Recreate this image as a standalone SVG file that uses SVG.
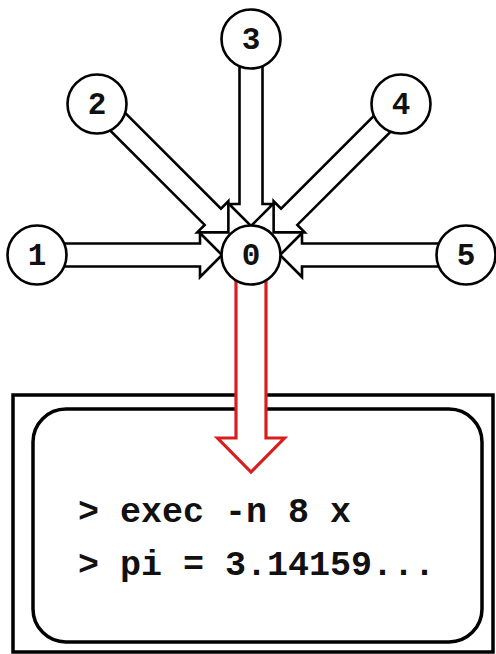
<svg xmlns="http://www.w3.org/2000/svg" width="496" height="654" viewBox="0 0 496 654">
<style>
.node circle{fill:#fff;stroke:#000;stroke-width:2.6}
.node text{font-family:"Liberation Mono","DejaVu Sans Mono",monospace;font-weight:bold;font-size:31px;text-anchor:middle;fill:#111}
.arr{fill:#fff;stroke:#000;stroke-width:2.6;stroke-linejoin:miter}
.red{fill:#fff;stroke:#d81f1f;stroke-width:3.2;stroke-linejoin:miter}
.frame{fill:#fff;stroke:#000;stroke-width:3.5}
.term{font-family:"Liberation Mono","DejaVu Sans Mono",monospace;font-weight:bold;font-size:35px;fill:#111}
</style>
<rect width="496" height="654" fill="#fff"/>
<g id="terminal">
  <rect class="frame" x="13" y="395" width="480" height="257"/>
  <rect class="frame" x="33" y="409" width="449" height="233" rx="33" ry="33"/>
  <text class="term" x="78" y="522" xml:space="preserve">&gt; exec -n 8 x</text>
  <text class="term" x="78" y="575" xml:space="preserve">&gt; pi = 3.14159...</text>
</g>
<g id="connectors">
  <polygon id="e1" class="arr" points="37,243.5 200,243.5 200,233 222,255 200,277 200,266.5 37,266.5"/>
  <polygon id="e5" class="arr" points="466,243.5 302,243.5 302,233 280,255 302,277 302,266.5 466,266.5"/>
  <polygon id="e3" class="arr" points="239.5,39 239.5,204 229,204 251,226 273,204 262.5,204 262.5,39"/>
  <polygon id="e2" class="arr" points="107.13,94.87 220.94,208.68 228.37,201.25 228.37,232.37 197.25,232.37 204.68,224.94 90.87,111.13"/>
  <polygon id="e4" class="arr" points="394.87,94.87 281.06,208.68 273.63,201.25 273.63,232.37 304.75,232.37 297.32,224.94 411.13,111.13"/>
  <polygon id="out" class="red" points="236,270 236,438 217.5,438 251,472 284.5,438 266,438 266,270"/>
</g>
<g id="nodes">
  <g id="n0" class="node"><circle cx="251" cy="255" r="29.5"/><text x="251" y="265">0</text></g>
  <g id="n1" class="node"><circle cx="37" cy="255" r="29.5"/><text x="37" y="265">1</text></g>
  <g id="n2" class="node"><circle cx="97" cy="104" r="29.5"/><text x="97" y="114">2</text></g>
  <g id="n3" class="node"><circle cx="251" cy="39" r="29.5"/><text x="251" y="49">3</text></g>
  <g id="n4" class="node"><circle cx="401" cy="104" r="29.5"/><text x="401" y="114">4</text></g>
  <g id="n5" class="node"><circle cx="466" cy="255" r="29.5"/><text x="466" y="265">5</text></g>
</g>
</svg>
